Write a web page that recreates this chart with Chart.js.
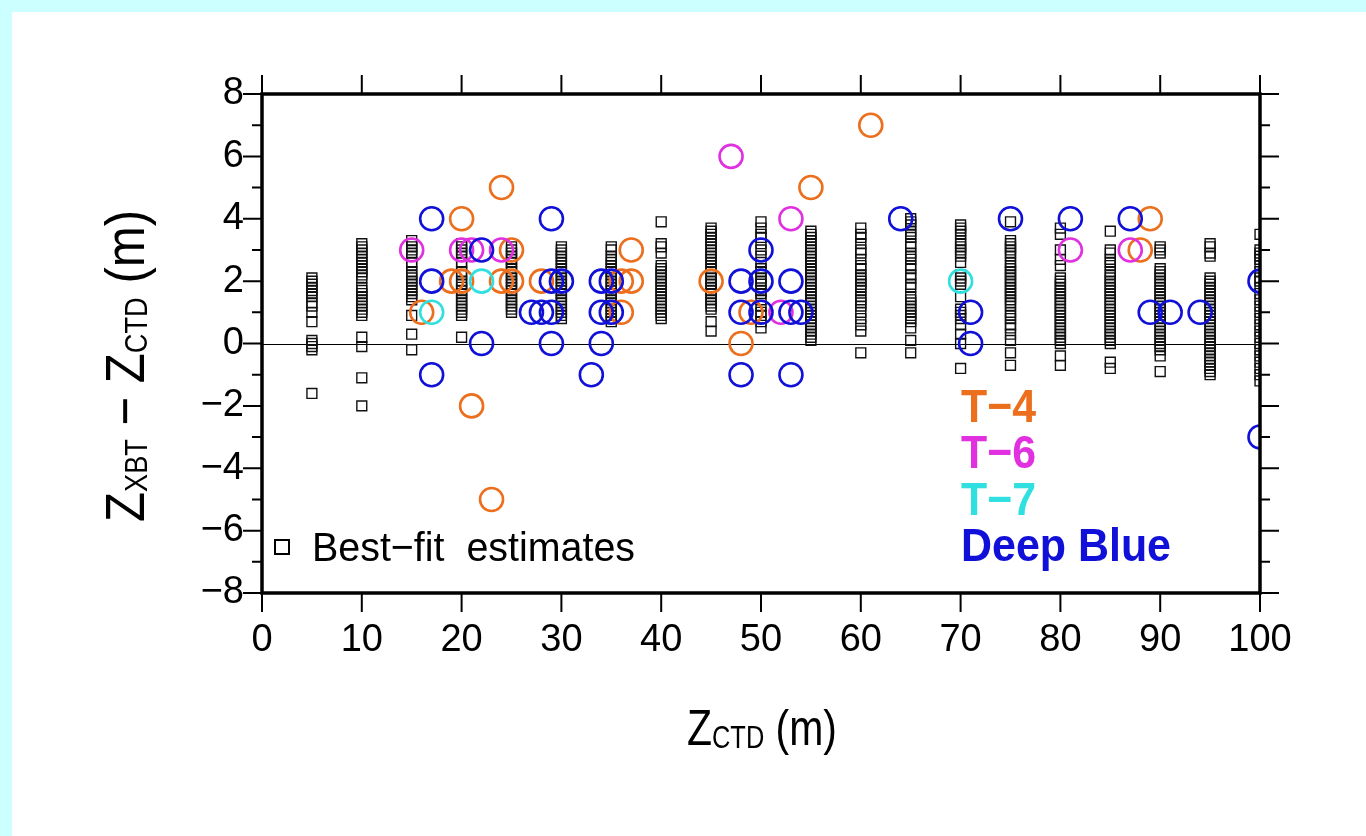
<!DOCTYPE html>
<html>
<head>
<meta charset="utf-8">
<script src="https://cdn.jsdelivr.net/npm/chart.js@4.4.0/dist/chart.umd.min.js"></script>
<style>
  body { margin: 0; background: #ccffff; overflow: hidden; }
  #panel { position: absolute; left: 12px; top: 12px; width: 1354px; height: 824px; background: #ffffff; }
  canvas { position: absolute; left: 0; top: 0; }
</style>
</head>
<body>
<div id="panel"></div>
<canvas id="xbtChart" width="1366" height="836"></canvas>
<script>
// Best-fit depth offsets, one column per CTD depth (m)
const bestFitDepths = [5, 10, 15, 20, 25, 30, 35, 40, 45, 50, 55, 60, 65, 70, 75, 80, 85, 90, 95, 100];
const bestFitOffsets = [
  [2.1, 2.0, 1.9, 1.8, 1.7, 1.6, 1.5, 1.3, 1.2, 1.0, 0.7, 0.1, 0.0, -0.1, -0.2, -1.6],
  [3.2, 3.1, 3.0, 2.9, 2.8, 2.7, 2.6, 2.5, 2.4, 2.3, 2.2, 2.1, 1.8, 1.7, 1.6, 1.5, 1.4, 1.3, 1.2, 1.1, 1.0, 0.9, 0.2, -0.1, -1.1, -2.0],
  [3.3, 3.2, 3.1, 3.0, 2.9, 2.8, 2.6, 2.5, 2.3, 2.2, 2.1, 2.0, 1.9, 1.8, 1.7, 1.6, 1.5, 1.4, 0.9, 0.3, -0.2],
  [3.2, 3.1, 3.0, 2.9, 2.8, 2.6, 2.5, 2.3, 2.2, 2.0, 1.9, 1.8, 1.7, 1.6, 1.5, 1.4, 1.3, 1.2, 1.1, 1.0, 0.9, 0.2],
  [3.1, 3.0, 2.9, 2.8, 2.7, 2.6, 2.5, 2.4, 2.3, 2.2, 2.1, 2.0, 1.9, 1.8, 1.7, 1.6, 1.5, 1.4, 1.3, 1.2, 1.1, 1.0],
  [3.1, 3.0, 2.9, 2.8, 2.7, 2.6, 2.5, 2.4, 2.3, 2.2, 2.1, 2.0, 1.9, 1.8, 1.7, 1.6, 1.5, 1.4, 1.3, 1.2, 1.1, 1.0, 0.9, 0.8],
  [3.1, 3.0, 2.8, 2.7, 2.6, 2.5, 2.4, 2.3, 2.2, 2.1, 2.0, 1.9, 1.8, 1.7, 1.6, 1.5, 1.4, 1.3, 1.2, 1.1, 1.0, 0.9, 0.8, 0.7],
  [3.9, 3.2, 3.1, 2.9, 2.5, 2.4, 2.3, 2.2, 2.1, 2.0, 1.9, 1.8, 1.7, 1.6, 1.5, 1.4, 1.3, 1.2, 1.1, 1.0, 0.9, 0.8],
  [3.7, 3.6, 3.5, 3.4, 3.3, 3.2, 3.1, 3.0, 2.9, 2.8, 2.7, 2.6, 2.5, 2.4, 2.3, 2.2, 2.1, 2.0, 1.9, 1.8, 1.7, 1.6, 1.5, 1.4, 1.3, 1.2, 1.1, 0.7, 0.4],
  [3.9, 3.7, 3.5, 3.4, 3.2, 3.0, 2.8, 2.6, 2.4, 2.3, 2.1, 2.0, 1.9, 1.7, 1.6, 1.4, 1.2, 1.0, 0.9, 0.7, 0.5],
  [3.6, 3.5, 3.4, 3.3, 3.2, 3.1, 3.0, 2.9, 2.8, 2.7, 2.6, 2.5, 2.4, 2.3, 2.2, 2.1, 2.0, 1.9, 1.8, 1.7, 1.6, 1.5, 1.4, 1.3, 1.2, 1.1, 1.0, 0.9, 0.8, 0.7, 0.6, 0.5, 0.4, 0.3, 0.2, 0.1],
  [3.7, 3.5, 3.4, 3.2, 3.0, 2.9, 2.7, 2.5, 2.4, 2.2, 2.1, 2.0, 1.9, 1.8, 1.7, 1.5, 1.4, 1.3, 1.2, 1.0, 0.8, 0.6, 0.4, -0.3],
  [4.0, 3.9, 3.8, 3.6, 3.5, 3.4, 3.2, 3.1, 2.9, 2.8, 2.7, 2.5, 2.4, 2.2, 2.1, 1.9, 1.8, 1.5, 1.4, 1.3, 1.2, 1.1, 1.0, 0.9, 0.8, 0.7, 0.5, 0.1, -0.3],
  [3.8, 3.7, 3.6, 3.5, 3.3, 3.2, 3.1, 3.0, 2.9, 2.8, 2.6, 2.2, 2.1, 2.0, 1.9, 1.5, 1.1, 1.0, 0.9, 0.8, 0.6, 0.3, 0.0, -0.8],
  [3.9, 3.3, 3.2, 3.1, 3.0, 2.9, 2.8, 2.6, 2.5, 2.4, 2.3, 2.2, 2.1, 2.0, 1.9, 1.8, 1.7, 1.6, 1.5, 1.4, 1.3, 1.2, 1.0, 0.9, 0.8, 0.6, 0.5, 0.3, 0.1, -0.3, -0.7],
  [3.7, 3.5, 3.0, 2.7, 2.5, 2.1, 2.0, 1.9, 1.8, 1.7, 1.6, 1.5, 1.4, 1.3, 1.2, 1.1, 1.0, 0.9, 0.8, 0.7, 0.6, 0.5, 0.4, 0.3, 0.2, 0.1, 0.0, -0.4, -0.7],
  [3.6, 3.0, 2.9, 2.7, 2.6, 2.5, 2.3, 2.2, 2.1, 2.0, 1.9, 1.8, 1.7, 1.6, 1.5, 1.4, 1.3, 1.2, 1.1, 1.0, 0.9, 0.8, 0.7, 0.6, 0.5, 0.4, 0.3, 0.2, 0.1, 0.0, -0.6, -0.8],
  [3.1, 3.0, 2.9, 2.4, 2.3, 2.2, 2.1, 2.0, 1.9, 1.8, 1.7, 1.6, 1.5, 1.4, 1.3, 1.2, 1.1, 1.0, 0.9, 0.8, 0.7, 0.6, 0.5, 0.4, 0.3, 0.2, 0.1, 0.0, -0.1, -0.2, -0.4, -0.9],
  [3.2, 3.1, 2.9, 2.8, 2.1, 2.0, 1.9, 1.8, 1.7, 1.6, 1.5, 1.4, 1.3, 1.2, 1.1, 1.0, 0.9, 0.8, 0.7, 0.6, 0.5, 0.4, 0.3, 0.2, 0.1, 0.0, -0.1, -0.2, -0.3, -0.4, -0.5, -0.6, -0.7, -0.8, -0.9, -1.0],
  [3.5, 3.0, 2.9, 2.8, 2.7, 2.5, 2.3, 2.1, 2.0, 1.8, 1.6, 1.4, 1.2, 1.0, 0.8, 0.6, 0.4, 0.2, 0.0, -0.2, -0.4, -0.6, -0.8, -1.0, -1.2]
];

// Probe comparisons: CTD depth (m) and XBT - CTD offset (m)
const t4Depth  = [16, 19, 20, 20, 21, 23, 24, 24, 25, 25, 28, 36, 36, 37, 37, 45, 48, 49, 55, 61, 88, 89];
const t4Offset = [1, 2, 2, 4, -2, -5, 5, 2, 2, 3, 2, 1, 2, 2, 3, 2, 0, 1, 5, 7, 3, 4];

const t6Depth  = [15, 20, 21, 24, 47, 52, 53, 81, 87];
const t6Offset = [3, 3, 3, 3, 6, 1, 4, 3, 3];

const t7Depth  = [17, 22, 70];
const t7Offset = [1, 2, 2];

const deepBlueDepth  = [17, 17, 17, 22, 22, 27, 28, 29, 29, 29, 30, 29, 33, 34, 35, 34, 35, 34, 48, 48, 48, 50, 50, 50, 53, 53, 54, 53, 64, 71, 71, 75, 81, 87, 89, 91, 94, 100, 100];
const deepBlueOffset = [4, 2, -1, 3, 0, 1, 1, 1, 4, 2, 2, 0, -1, 2, 2, 1, 1, 0, 2, 1, -1, 3, 2, 1, 2, 1, 1, -1, 4, 1, 0, 4, 4, 4, 1, 1, 1, 2, -3];

const xTicks = [0, 10, 20, 30, 40, 50, 60, 70, 80, 90, 100];
const yTicks = [-8, -6, -4, -2, 0, 2, 4, 6, 8];

const ORANGE = '#ec6f1e';
const MAGENTA = '#e030e0';
const CYAN = '#30e0e0';
const BLUE = '#1010d8';
const FONT = '"Liberation Sans", Arial, Helvetica, sans-serif';

function toPoints(xs, ys) {
  return xs.map((x, i) => ({ x: x, y: ys[i] }));
}

const fitPoints = [];
bestFitDepths.forEach((d, i) => {
  bestFitOffsets[i].forEach(v => fitPoints.push({ x: d, y: v }));
});

function circleSet(label, xs, ys, color) {
  return {
    label: label,
    data: toPoints(xs, ys),
    pointStyle: 'circle',
    pointRadius: 11.5,
    pointBorderWidth: 2.6,
    pointBorderColor: color,
    pointBackgroundColor: 'rgba(0,0,0,0)',
    showLine: false,
    clip: 0
  };
}

// draw text pieces (with subscripts) squeezed to a given width
function drawRich(ctx, pieces, width) {
  let natural = 0;
  pieces.forEach(p => {
    ctx.font = (p.bold ? 'bold ' : '') + p.size + 'px ' + FONT;
    p.w = ctx.measureText(p.text).width;
    natural += p.w;
  });
  ctx.save();
  ctx.scale(width / natural, 1);
  let x = 0;
  pieces.forEach(p => {
    ctx.font = (p.bold ? 'bold ' : '') + p.size + 'px ' + FONT;
    ctx.fillText(p.text, x, p.dy || 0);
    x += p.w;
  });
  ctx.restore();
}

const framePlugin = {
  id: 'framePlugin',
  beforeDatasetsDraw(chart) {
    const { ctx, chartArea: a, scales: { y } } = chart;
    const y0 = Math.round(y.getPixelForValue(0)) + 0.5;
    ctx.save();
    ctx.strokeStyle = '#000';
    ctx.lineWidth = 1.2;
    ctx.beginPath();
    ctx.moveTo(a.left, y0);
    ctx.lineTo(a.right, y0);
    ctx.stroke();
    ctx.restore();
  },
  afterDraw(chart) {
    const { ctx, chartArea: a, scales: { x, y } } = chart;
    ctx.save();
    ctx.strokeStyle = '#000';
    ctx.fillStyle = '#000';

    // ticks outside the frame
    ctx.lineWidth = 2;
    ctx.beginPath();
    xTicks.forEach(v => {
      const px = x.getPixelForValue(v);
      ctx.moveTo(px, a.bottom); ctx.lineTo(px, a.bottom + 19);
      ctx.moveTo(px, a.top); ctx.lineTo(px, a.top - 19);
    });
    for (let v = -8; v <= 8; v++) {
      const py = y.getPixelForValue(v);
      const len = v % 2 === 0 ? 19 : 10;
      ctx.moveTo(a.left, py); ctx.lineTo(a.left - len, py);
      ctx.moveTo(a.right, py); ctx.lineTo(a.right + len, py);
    }
    ctx.stroke();

    // frame
    ctx.lineWidth = 3.5;
    ctx.strokeRect(a.left, a.top, a.right - a.left, a.bottom - a.top);

    // axis titles
    ctx.textBaseline = 'alphabetic';
    ctx.textAlign = 'left';
    ctx.save();
    ctx.translate(687, 745);
    drawRich(ctx, [
      { text: 'Z', size: 50 },
      { text: 'CTD', size: 31, dy: 3 },
      { text: ' (m)', size: 50 }
    ], 150);
    ctx.restore();

    ctx.save();
    ctx.translate(144, 522);
    ctx.rotate(-Math.PI / 2);
    drawRich(ctx, [
      { text: 'Z', size: 56 },
      { text: 'XBT', size: 31, dy: 3 },
      { text: ' \u2212 Z', size: 56 },
      { text: 'CTD', size: 31, dy: 3 },
      { text: ' (m)', size: 56 }
    ], 312);
    ctx.restore();

    // legend entry for best-fit squares
    ctx.lineWidth = 2;
    ctx.strokeRect(275, 540, 14, 14);
    ctx.save();
    ctx.translate(312, 561);
    drawRich(ctx, [{ text: 'Best\u2212fit  estimates', size: 41 }], 323);
    ctx.restore();

    // probe labels
    const labels = [
      { text: 'T\u22124', color: ORANGE, y: 422, w: 75 },
      { text: 'T\u22126', color: MAGENTA, y: 468, w: 75 },
      { text: 'T\u22127', color: CYAN, y: 515, w: 75 },
      { text: 'Deep Blue', color: BLUE, y: 561, w: 210 }
    ];
    labels.forEach(l => {
      ctx.fillStyle = l.color;
      ctx.save();
      ctx.translate(961, l.y);
      drawRich(ctx, [{ text: l.text, size: 47, bold: true }], l.w);
      ctx.restore();
    });
    ctx.restore();
  }
};

const ctx = document.getElementById('xbtChart').getContext('2d');
new Chart(ctx, {
  type: 'scatter',
  data: {
    datasets: [
      circleSet('Deep Blue', deepBlueDepth, deepBlueOffset, BLUE),
      circleSet('T-7', t7Depth, t7Offset, CYAN),
      circleSet('T-6', t6Depth, t6Offset, MAGENTA),
      circleSet('T-4', t4Depth, t4Offset, ORANGE),
      {
        label: 'Best-fit estimates',
        data: fitPoints,
        pointStyle: 'rect',
        pointRadius: 7,
        pointBorderWidth: 1.4,
        pointBorderColor: '#111',
        pointBackgroundColor: 'rgba(0,0,0,0)',
        showLine: false,
        clip: 0
      }
    ]
  },
  options: {
    responsive: false,
    animation: false,
    devicePixelRatio: 1,
    layout: { padding: { left: 0, top: 94, right: 106, bottom: 163 } },
    plugins: { legend: { display: false }, tooltip: { enabled: false } },
    scales: {
      x: {
        type: 'linear',
        min: 0,
        max: 100,
        afterFit: s => { s.height = 80; },
        afterBuildTicks: s => { s.ticks = xTicks.map(v => ({ value: v })); },
        grid: { display: false, drawTicks: false },
        border: { display: false },
        ticks: { padding: 25, color: '#000', font: { family: FONT, size: 38 } }
      },
      y: {
        type: 'linear',
        min: -8,
        max: 8,
        afterFit: s => { s.width = 262; },
        afterBuildTicks: s => { s.ticks = yTicks.map(v => ({ value: v })); },
        grid: { display: false, drawTicks: false },
        border: { display: false },
        ticks: {
          padding: 18,
          color: '#000',
          font: { family: FONT, size: 38 },
          callback: v => String(v).replace('-', '\u2212')
        }
      }
    }
  },
  plugins: [framePlugin]
});
</script>
</body>
</html>
